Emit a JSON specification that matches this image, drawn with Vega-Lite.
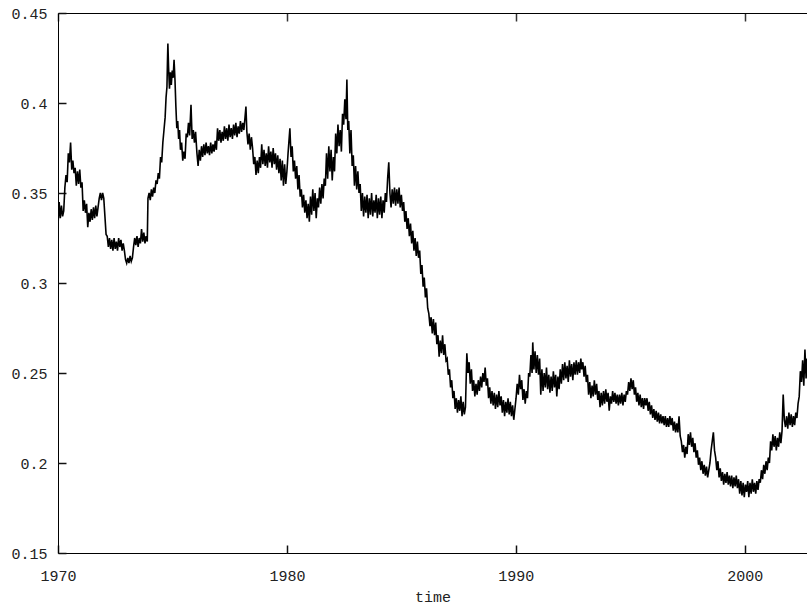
{
"$schema":"https://vega.github.io/schema/vega-lite/v6.json",
"width":749,"height":540,
"autosize":{"type":"none"},
"padding":{"left":58,"top":13,"right":0,"bottom":53},
"background":"white",
"config":{"view":{"stroke":null},"axis":{"labelFont":"Liberation Mono","titleFont":"Liberation Mono","labelColor":"#222","titleColor":"#222","domainColor":"#000","tickColor":"#000","grid":false,"labelFontSize":15,"titleFontSize":15,"titleFontWeight":"normal","zindex":1}},
"datasets":{"d":[
{"t":1970.00,"v":0.332},{"t":1970.05,"v":0.345},{"t":1970.10,"v":0.336},{"t":1970.15,"v":0.343},{"t":1970.20,"v":0.337},{"t":1970.25,"v":0.340},{"t":1970.30,"v":0.353},{"t":1970.35,"v":0.360},{"t":1970.40,"v":0.356},{"t":1970.45,"v":0.372},{"t":1970.50,"v":0.367},{"t":1970.55,"v":0.378},{"t":1970.60,"v":0.363},{"t":1970.65,"v":0.368},{"t":1970.70,"v":0.361},{"t":1970.75,"v":0.364},{"t":1970.80,"v":0.354},{"t":1970.85,"v":0.362},{"t":1970.90,"v":0.355},{"t":1970.95,"v":0.363},
{"t":1971.00,"v":0.353},{"t":1971.05,"v":0.356},{"t":1971.10,"v":0.340},{"t":1971.15,"v":0.346},{"t":1971.20,"v":0.339},{"t":1971.25,"v":0.344},{"t":1971.30,"v":0.331},{"t":1971.35,"v":0.339},{"t":1971.40,"v":0.334},{"t":1971.45,"v":0.341},{"t":1971.50,"v":0.335},{"t":1971.55,"v":0.342},{"t":1971.60,"v":0.336},{"t":1971.65,"v":0.343},{"t":1971.70,"v":0.337},{"t":1971.75,"v":0.342},{"t":1971.80,"v":0.347},{"t":1971.85,"v":0.350},{"t":1971.90,"v":0.346},{"t":1971.95,"v":0.350},
{"t":1972.00,"v":0.347},{"t":1972.05,"v":0.337},{"t":1972.10,"v":0.327},{"t":1972.15,"v":0.326},{"t":1972.20,"v":0.320},{"t":1972.25,"v":0.325},{"t":1972.30,"v":0.319},{"t":1972.35,"v":0.324},{"t":1972.40,"v":0.318},{"t":1972.45,"v":0.325},{"t":1972.50,"v":0.319},{"t":1972.55,"v":0.323},{"t":1972.60,"v":0.318},{"t":1972.65,"v":0.325},{"t":1972.70,"v":0.320},{"t":1972.75,"v":0.324},{"t":1972.80,"v":0.318},{"t":1972.85,"v":0.322},{"t":1972.90,"v":0.318},{"t":1972.95,"v":0.313},
{"t":1973.00,"v":0.311},{"t":1973.05,"v":0.314},{"t":1973.10,"v":0.311},{"t":1973.15,"v":0.315},{"t":1973.20,"v":0.312},{"t":1973.25,"v":0.314},{"t":1973.30,"v":0.320},{"t":1973.35,"v":0.325},{"t":1973.40,"v":0.321},{"t":1973.45,"v":0.326},{"t":1973.50,"v":0.320},{"t":1973.55,"v":0.325},{"t":1973.60,"v":0.322},{"t":1973.65,"v":0.330},{"t":1973.70,"v":0.323},{"t":1973.75,"v":0.328},{"t":1973.80,"v":0.322},{"t":1973.85,"v":0.326},{"t":1973.90,"v":0.323},{"t":1973.93,"v":0.347},{"t":1973.98,"v":0.350},
{"t":1974.03,"v":0.346},{"t":1974.08,"v":0.352},{"t":1974.13,"v":0.348},{"t":1974.18,"v":0.353},{"t":1974.23,"v":0.350},{"t":1974.28,"v":0.357},{"t":1974.33,"v":0.355},{"t":1974.38,"v":0.361},{"t":1974.43,"v":0.358},{"t":1974.48,"v":0.370},{"t":1974.53,"v":0.367},{"t":1974.58,"v":0.378},{"t":1974.63,"v":0.385},{"t":1974.68,"v":0.392},{"t":1974.72,"v":0.403},{"t":1974.76,"v":0.409},{"t":1974.78,"v":0.422},{"t":1974.80,"v":0.433},{"t":1974.83,"v":0.420},{"t":1974.87,"v":0.408},{"t":1974.91,"v":0.417},{"t":1974.95,"v":0.410},{"t":1974.99,"v":0.418},
{"t":1975.03,"v":0.414},{"t":1975.07,"v":0.424},{"t":1975.11,"v":0.413},{"t":1975.15,"v":0.398},{"t":1975.19,"v":0.386},{"t":1975.23,"v":0.390},{"t":1975.27,"v":0.380},{"t":1975.31,"v":0.385},{"t":1975.35,"v":0.374},{"t":1975.40,"v":0.378},{"t":1975.45,"v":0.368},{"t":1975.50,"v":0.373},{"t":1975.55,"v":0.369},{"t":1975.60,"v":0.383},{"t":1975.65,"v":0.381},{"t":1975.70,"v":0.389},{"t":1975.75,"v":0.382},{"t":1975.81,"v":0.399},{"t":1975.86,"v":0.380},{"t":1975.91,"v":0.385},{"t":1975.96,"v":0.378},
{"t":1976.01,"v":0.384},{"t":1976.07,"v":0.372},{"t":1976.12,"v":0.365},{"t":1976.17,"v":0.374},{"t":1976.22,"v":0.368},{"t":1976.27,"v":0.376},{"t":1976.32,"v":0.370},{"t":1976.37,"v":0.377},{"t":1976.42,"v":0.371},{"t":1976.47,"v":0.378},{"t":1976.52,"v":0.372},{"t":1976.57,"v":0.376},{"t":1976.62,"v":0.371},{"t":1976.67,"v":0.378},{"t":1976.72,"v":0.372},{"t":1976.77,"v":0.377},{"t":1976.82,"v":0.373},{"t":1976.87,"v":0.379},{"t":1976.92,"v":0.374},{"t":1976.97,"v":0.386},
{"t":1977.02,"v":0.379},{"t":1977.07,"v":0.385},{"t":1977.12,"v":0.378},{"t":1977.17,"v":0.384},{"t":1977.22,"v":0.379},{"t":1977.27,"v":0.387},{"t":1977.32,"v":0.380},{"t":1977.37,"v":0.386},{"t":1977.42,"v":0.379},{"t":1977.47,"v":0.388},{"t":1977.52,"v":0.381},{"t":1977.57,"v":0.386},{"t":1977.62,"v":0.380},{"t":1977.67,"v":0.388},{"t":1977.72,"v":0.382},{"t":1977.77,"v":0.389},{"t":1977.82,"v":0.381},{"t":1977.87,"v":0.387},{"t":1977.92,"v":0.383},{"t":1977.97,"v":0.390},
{"t":1978.02,"v":0.384},{"t":1978.07,"v":0.389},{"t":1978.12,"v":0.385},{"t":1978.17,"v":0.392},{"t":1978.21,"v":0.398},{"t":1978.25,"v":0.384},{"t":1978.30,"v":0.377},{"t":1978.35,"v":0.383},{"t":1978.40,"v":0.374},{"t":1978.45,"v":0.381},{"t":1978.50,"v":0.375},{"t":1978.55,"v":0.366},{"t":1978.60,"v":0.370},{"t":1978.65,"v":0.360},{"t":1978.70,"v":0.368},{"t":1978.75,"v":0.361},{"t":1978.80,"v":0.370},{"t":1978.85,"v":0.364},{"t":1978.90,"v":0.377},{"t":1978.95,"v":0.366},
{"t":1979.00,"v":0.374},{"t":1979.05,"v":0.365},{"t":1979.10,"v":0.372},{"t":1979.15,"v":0.364},{"t":1979.20,"v":0.376},{"t":1979.25,"v":0.367},{"t":1979.30,"v":0.373},{"t":1979.35,"v":0.364},{"t":1979.40,"v":0.375},{"t":1979.45,"v":0.366},{"t":1979.50,"v":0.372},{"t":1979.55,"v":0.363},{"t":1979.60,"v":0.371},{"t":1979.65,"v":0.361},{"t":1979.70,"v":0.369},{"t":1979.75,"v":0.357},{"t":1979.80,"v":0.368},{"t":1979.85,"v":0.354},{"t":1979.90,"v":0.366},{"t":1979.95,"v":0.355},
{"t":1980.00,"v":0.362},{"t":1980.05,"v":0.372},{"t":1980.13,"v":0.386},{"t":1980.18,"v":0.370},{"t":1980.23,"v":0.376},{"t":1980.28,"v":0.362},{"t":1980.33,"v":0.368},{"t":1980.38,"v":0.358},{"t":1980.43,"v":0.365},{"t":1980.48,"v":0.352},{"t":1980.53,"v":0.360},{"t":1980.58,"v":0.348},{"t":1980.63,"v":0.352},{"t":1980.68,"v":0.342},{"t":1980.73,"v":0.349},{"t":1980.78,"v":0.339},{"t":1980.83,"v":0.346},{"t":1980.88,"v":0.336},{"t":1980.93,"v":0.344},{"t":1980.98,"v":0.334},
{"t":1981.03,"v":0.348},{"t":1981.08,"v":0.338},{"t":1981.13,"v":0.352},{"t":1981.18,"v":0.340},{"t":1981.23,"v":0.350},{"t":1981.28,"v":0.336},{"t":1981.33,"v":0.347},{"t":1981.38,"v":0.342},{"t":1981.43,"v":0.353},{"t":1981.48,"v":0.344},{"t":1981.53,"v":0.355},{"t":1981.58,"v":0.347},{"t":1981.63,"v":0.358},{"t":1981.68,"v":0.354},{"t":1981.73,"v":0.372},{"t":1981.78,"v":0.358},{"t":1981.83,"v":0.376},{"t":1981.88,"v":0.362},{"t":1981.93,"v":0.374},{"t":1981.98,"v":0.357},
{"t":1982.03,"v":0.370},{"t":1982.08,"v":0.362},{"t":1982.13,"v":0.383},{"t":1982.18,"v":0.372},{"t":1982.23,"v":0.388},{"t":1982.28,"v":0.376},{"t":1982.33,"v":0.385},{"t":1982.38,"v":0.373},{"t":1982.43,"v":0.394},{"t":1982.48,"v":0.388},{"t":1982.53,"v":0.402},{"t":1982.58,"v":0.391},{"t":1982.62,"v":0.413},{"t":1982.66,"v":0.385},{"t":1982.70,"v":0.390},{"t":1982.75,"v":0.372},{"t":1982.80,"v":0.385},{"t":1982.85,"v":0.365},{"t":1982.90,"v":0.371},{"t":1982.95,"v":0.354},
{"t":1983.00,"v":0.365},{"t":1983.05,"v":0.352},{"t":1983.10,"v":0.362},{"t":1983.15,"v":0.350},{"t":1983.20,"v":0.355},{"t":1983.25,"v":0.340},{"t":1983.30,"v":0.350},{"t":1983.35,"v":0.337},{"t":1983.40,"v":0.348},{"t":1983.45,"v":0.339},{"t":1983.50,"v":0.349},{"t":1983.55,"v":0.336},{"t":1983.60,"v":0.347},{"t":1983.65,"v":0.338},{"t":1983.70,"v":0.350},{"t":1983.75,"v":0.337},{"t":1983.80,"v":0.346},{"t":1983.85,"v":0.339},{"t":1983.90,"v":0.349},{"t":1983.95,"v":0.336},
{"t":1984.00,"v":0.347},{"t":1984.05,"v":0.338},{"t":1984.10,"v":0.348},{"t":1984.15,"v":0.336},{"t":1984.20,"v":0.346},{"t":1984.25,"v":0.339},{"t":1984.30,"v":0.350},{"t":1984.35,"v":0.345},{"t":1984.40,"v":0.358},{"t":1984.45,"v":0.367},{"t":1984.50,"v":0.350},{"t":1984.55,"v":0.342},{"t":1984.60,"v":0.352},{"t":1984.65,"v":0.344},{"t":1984.70,"v":0.353},{"t":1984.75,"v":0.343},{"t":1984.80,"v":0.352},{"t":1984.85,"v":0.344},{"t":1984.90,"v":0.353},{"t":1984.95,"v":0.342},
{"t":1985.00,"v":0.349},{"t":1985.05,"v":0.340},{"t":1985.10,"v":0.345},{"t":1985.15,"v":0.334},{"t":1985.20,"v":0.340},{"t":1985.25,"v":0.330},{"t":1985.30,"v":0.336},{"t":1985.35,"v":0.326},{"t":1985.40,"v":0.333},{"t":1985.45,"v":0.322},{"t":1985.50,"v":0.329},{"t":1985.55,"v":0.318},{"t":1985.60,"v":0.325},{"t":1985.65,"v":0.315},{"t":1985.70,"v":0.323},{"t":1985.75,"v":0.314},{"t":1985.80,"v":0.318},{"t":1985.85,"v":0.305},{"t":1985.90,"v":0.310},{"t":1985.95,"v":0.298},
{"t":1986.00,"v":0.303},{"t":1986.05,"v":0.292},{"t":1986.10,"v":0.297},{"t":1986.15,"v":0.286},{"t":1986.20,"v":0.283},{"t":1986.25,"v":0.276},{"t":1986.30,"v":0.281},{"t":1986.35,"v":0.272},{"t":1986.40,"v":0.280},{"t":1986.45,"v":0.271},{"t":1986.50,"v":0.278},{"t":1986.55,"v":0.266},{"t":1986.60,"v":0.271},{"t":1986.65,"v":0.259},{"t":1986.70,"v":0.268},{"t":1986.75,"v":0.261},{"t":1986.80,"v":0.271},{"t":1986.85,"v":0.260},{"t":1986.90,"v":0.266},{"t":1986.95,"v":0.257},
{"t":1987.00,"v":0.258},{"t":1987.05,"v":0.249},{"t":1987.10,"v":0.252},{"t":1987.15,"v":0.242},{"t":1987.20,"v":0.246},{"t":1987.25,"v":0.236},{"t":1987.30,"v":0.240},{"t":1987.35,"v":0.230},{"t":1987.40,"v":0.236},{"t":1987.45,"v":0.228},{"t":1987.50,"v":0.235},{"t":1987.55,"v":0.229},{"t":1987.60,"v":0.237},{"t":1987.65,"v":0.226},{"t":1987.70,"v":0.234},{"t":1987.75,"v":0.227},{"t":1987.80,"v":0.231},{"t":1987.86,"v":0.261},{"t":1987.91,"v":0.250},{"t":1987.96,"v":0.256},
{"t":1988.01,"v":0.244},{"t":1988.06,"v":0.252},{"t":1988.11,"v":0.240},{"t":1988.16,"v":0.246},{"t":1988.21,"v":0.237},{"t":1988.26,"v":0.244},{"t":1988.31,"v":0.238},{"t":1988.36,"v":0.246},{"t":1988.41,"v":0.240},{"t":1988.46,"v":0.248},{"t":1988.51,"v":0.242},{"t":1988.56,"v":0.250},{"t":1988.61,"v":0.245},{"t":1988.66,"v":0.253},{"t":1988.71,"v":0.243},{"t":1988.76,"v":0.247},{"t":1988.81,"v":0.236},{"t":1988.86,"v":0.242},{"t":1988.91,"v":0.233},{"t":1988.96,"v":0.240},
{"t":1989.01,"v":0.232},{"t":1989.06,"v":0.239},{"t":1989.11,"v":0.230},{"t":1989.16,"v":0.238},{"t":1989.21,"v":0.231},{"t":1989.26,"v":0.240},{"t":1989.31,"v":0.232},{"t":1989.36,"v":0.237},{"t":1989.41,"v":0.228},{"t":1989.46,"v":0.235},{"t":1989.51,"v":0.226},{"t":1989.56,"v":0.234},{"t":1989.61,"v":0.228},{"t":1989.66,"v":0.236},{"t":1989.71,"v":0.227},{"t":1989.76,"v":0.234},{"t":1989.81,"v":0.226},{"t":1989.86,"v":0.232},{"t":1989.91,"v":0.224},{"t":1989.96,"v":0.230},
{"t":1990.01,"v":0.236},{"t":1990.06,"v":0.244},{"t":1990.11,"v":0.238},{"t":1990.16,"v":0.249},{"t":1990.21,"v":0.241},{"t":1990.26,"v":0.246},{"t":1990.31,"v":0.235},{"t":1990.36,"v":0.241},{"t":1990.41,"v":0.233},{"t":1990.46,"v":0.240},{"t":1990.51,"v":0.236},{"t":1990.56,"v":0.250},{"t":1990.61,"v":0.248},{"t":1990.66,"v":0.260},{"t":1990.71,"v":0.250},{"t":1990.74,"v":0.267},{"t":1990.79,"v":0.252},{"t":1990.84,"v":0.262},{"t":1990.89,"v":0.250},{"t":1990.94,"v":0.260},{"t":1990.99,"v":0.249},
{"t":1991.04,"v":0.258},{"t":1991.09,"v":0.238},{"t":1991.14,"v":0.252},{"t":1991.19,"v":0.240},{"t":1991.24,"v":0.250},{"t":1991.29,"v":0.242},{"t":1991.34,"v":0.253},{"t":1991.39,"v":0.241},{"t":1991.44,"v":0.249},{"t":1991.49,"v":0.239},{"t":1991.54,"v":0.248},{"t":1991.59,"v":0.240},{"t":1991.64,"v":0.251},{"t":1991.69,"v":0.242},{"t":1991.74,"v":0.249},{"t":1991.79,"v":0.237},{"t":1991.84,"v":0.248},{"t":1991.89,"v":0.241},{"t":1991.94,"v":0.252},{"t":1991.99,"v":0.244},
{"t":1992.04,"v":0.255},{"t":1992.09,"v":0.246},{"t":1992.14,"v":0.256},{"t":1992.19,"v":0.247},{"t":1992.24,"v":0.254},{"t":1992.29,"v":0.245},{"t":1992.34,"v":0.257},{"t":1992.39,"v":0.248},{"t":1992.44,"v":0.255},{"t":1992.49,"v":0.246},{"t":1992.54,"v":0.256},{"t":1992.59,"v":0.249},{"t":1992.64,"v":0.257},{"t":1992.69,"v":0.249},{"t":1992.74,"v":0.256},{"t":1992.79,"v":0.250},{"t":1992.84,"v":0.258},{"t":1992.88,"v":0.252},{"t":1992.93,"v":0.256},{"t":1992.98,"v":0.248},
{"t":1993.03,"v":0.254},{"t":1993.08,"v":0.245},{"t":1993.13,"v":0.249},{"t":1993.18,"v":0.238},{"t":1993.23,"v":0.245},{"t":1993.28,"v":0.236},{"t":1993.33,"v":0.243},{"t":1993.38,"v":0.237},{"t":1993.43,"v":0.246},{"t":1993.48,"v":0.238},{"t":1993.53,"v":0.244},{"t":1993.58,"v":0.235},{"t":1993.63,"v":0.240},{"t":1993.68,"v":0.231},{"t":1993.73,"v":0.239},{"t":1993.78,"v":0.232},{"t":1993.83,"v":0.240},{"t":1993.88,"v":0.233},{"t":1993.93,"v":0.241},{"t":1993.98,"v":0.234},
{"t":1994.03,"v":0.239},{"t":1994.08,"v":0.229},{"t":1994.13,"v":0.237},{"t":1994.18,"v":0.233},{"t":1994.23,"v":0.240},{"t":1994.28,"v":0.234},{"t":1994.33,"v":0.239},{"t":1994.38,"v":0.233},{"t":1994.43,"v":0.238},{"t":1994.48,"v":0.232},{"t":1994.53,"v":0.238},{"t":1994.58,"v":0.233},{"t":1994.63,"v":0.239},{"t":1994.68,"v":0.232},{"t":1994.73,"v":0.238},{"t":1994.78,"v":0.234},{"t":1994.83,"v":0.240},{"t":1994.88,"v":0.238},{"t":1994.93,"v":0.245},{"t":1994.98,"v":0.240},
{"t":1995.03,"v":0.247},{"t":1995.08,"v":0.241},{"t":1995.13,"v":0.246},{"t":1995.18,"v":0.238},{"t":1995.23,"v":0.242},{"t":1995.28,"v":0.234},{"t":1995.33,"v":0.239},{"t":1995.38,"v":0.232},{"t":1995.43,"v":0.238},{"t":1995.48,"v":0.231},{"t":1995.53,"v":0.236},{"t":1995.58,"v":0.230},{"t":1995.63,"v":0.236},{"t":1995.68,"v":0.232},{"t":1995.73,"v":0.236},{"t":1995.78,"v":0.229},{"t":1995.83,"v":0.234},{"t":1995.88,"v":0.227},{"t":1995.93,"v":0.232},{"t":1995.98,"v":0.225},
{"t":1996.03,"v":0.230},{"t":1996.08,"v":0.224},{"t":1996.13,"v":0.229},{"t":1996.18,"v":0.223},{"t":1996.23,"v":0.228},{"t":1996.28,"v":0.222},{"t":1996.33,"v":0.227},{"t":1996.38,"v":0.222},{"t":1996.43,"v":0.226},{"t":1996.48,"v":0.221},{"t":1996.53,"v":0.226},{"t":1996.58,"v":0.220},{"t":1996.63,"v":0.225},{"t":1996.68,"v":0.220},{"t":1996.73,"v":0.226},{"t":1996.78,"v":0.221},{"t":1996.83,"v":0.225},{"t":1996.88,"v":0.218},{"t":1996.93,"v":0.223},{"t":1996.98,"v":0.217},
{"t":1997.03,"v":0.222},{"t":1997.08,"v":0.217},{"t":1997.13,"v":0.226},{"t":1997.18,"v":0.215},{"t":1997.23,"v":0.212},{"t":1997.28,"v":0.206},{"t":1997.33,"v":0.210},{"t":1997.38,"v":0.203},{"t":1997.43,"v":0.209},{"t":1997.48,"v":0.205},{"t":1997.53,"v":0.216},{"t":1997.58,"v":0.210},{"t":1997.63,"v":0.217},{"t":1997.68,"v":0.209},{"t":1997.73,"v":0.214},{"t":1997.78,"v":0.206},{"t":1997.83,"v":0.211},{"t":1997.88,"v":0.203},{"t":1997.93,"v":0.207},{"t":1997.98,"v":0.199},
{"t":1998.03,"v":0.203},{"t":1998.08,"v":0.196},{"t":1998.13,"v":0.201},{"t":1998.18,"v":0.194},{"t":1998.23,"v":0.199},{"t":1998.28,"v":0.193},{"t":1998.33,"v":0.198},{"t":1998.38,"v":0.192},{"t":1998.43,"v":0.196},{"t":1998.48,"v":0.200},{"t":1998.53,"v":0.207},{"t":1998.58,"v":0.212},{"t":1998.63,"v":0.217},{"t":1998.68,"v":0.207},{"t":1998.73,"v":0.203},{"t":1998.78,"v":0.196},{"t":1998.83,"v":0.201},{"t":1998.88,"v":0.192},{"t":1998.93,"v":0.197},{"t":1998.98,"v":0.190},
{"t":1999.03,"v":0.195},{"t":1999.08,"v":0.188},{"t":1999.13,"v":0.194},{"t":1999.18,"v":0.189},{"t":1999.23,"v":0.195},{"t":1999.28,"v":0.188},{"t":1999.33,"v":0.193},{"t":1999.38,"v":0.187},{"t":1999.43,"v":0.193},{"t":1999.48,"v":0.186},{"t":1999.53,"v":0.192},{"t":1999.58,"v":0.187},{"t":1999.63,"v":0.193},{"t":1999.68,"v":0.186},{"t":1999.73,"v":0.191},{"t":1999.78,"v":0.183},{"t":1999.83,"v":0.190},{"t":1999.88,"v":0.182},{"t":1999.93,"v":0.189},{"t":1999.98,"v":0.181},
{"t":2000.03,"v":0.188},{"t":2000.08,"v":0.184},{"t":2000.13,"v":0.190},{"t":2000.18,"v":0.181},{"t":2000.23,"v":0.189},{"t":2000.28,"v":0.183},{"t":2000.33,"v":0.191},{"t":2000.38,"v":0.184},{"t":2000.43,"v":0.189},{"t":2000.48,"v":0.183},{"t":2000.53,"v":0.190},{"t":2000.58,"v":0.185},{"t":2000.63,"v":0.191},{"t":2000.68,"v":0.189},{"t":2000.73,"v":0.196},{"t":2000.78,"v":0.191},{"t":2000.83,"v":0.199},{"t":2000.88,"v":0.194},{"t":2000.93,"v":0.201},{"t":2000.98,"v":0.196},
{"t":2001.03,"v":0.203},{"t":2001.08,"v":0.200},{"t":2001.13,"v":0.212},{"t":2001.18,"v":0.207},{"t":2001.23,"v":0.216},{"t":2001.28,"v":0.209},{"t":2001.33,"v":0.215},{"t":2001.38,"v":0.207},{"t":2001.43,"v":0.214},{"t":2001.48,"v":0.209},{"t":2001.53,"v":0.217},{"t":2001.58,"v":0.211},{"t":2001.63,"v":0.218},{"t":2001.68,"v":0.238},{"t":2001.73,"v":0.224},{"t":2001.78,"v":0.220},{"t":2001.83,"v":0.226},{"t":2001.88,"v":0.219},{"t":2001.93,"v":0.228},{"t":2001.98,"v":0.221},
{"t":2002.03,"v":0.227},{"t":2002.08,"v":0.220},{"t":2002.13,"v":0.226},{"t":2002.18,"v":0.221},{"t":2002.23,"v":0.228},{"t":2002.28,"v":0.225},{"t":2002.33,"v":0.233},{"t":2002.38,"v":0.237},{"t":2002.43,"v":0.251},{"t":2002.48,"v":0.245},{"t":2002.53,"v":0.257},{"t":2002.58,"v":0.243},{"t":2002.63,"v":0.263},{"t":2002.68,"v":0.247},{"t":2002.72,"v":0.258}
]},
"data":{"name":"d"},
"encoding":{
 "x":{"field":"t","type":"quantitative","scale":{"domain":[1970,2002.72],"nice":false,"zero":false}},
 "y":{"field":"v","type":"quantitative","scale":{"domain":[0.15,0.45],"nice":false,"zero":false}}
},
"layer":[
{"mark":{"type":"line","color":"#000","strokeWidth":1.6,"clip":true},
 "encoding":{
  "x":{"field":"t","type":"quantitative","axis":{"orient":"bottom","title":"time","values":[1970,1980,1990,2000],"format":"d","ticks":false,"labelPadding":15,"labelFlush":false,"titlePadding":6}},
  "y":{"field":"v","type":"quantitative","axis":{"orient":"left","title":null,"values":[0.15,0.2,0.25,0.3,0.35,0.4,0.45],"format":".2~f","ticks":false,"labelPadding":11,"labelFlush":false}}
 }},
{"mark":{"type":"line","opacity":0,"clip":true},
 "encoding":{
  "x":{"field":"t","type":"quantitative","axis":{"orient":"top","offset":-540,"title":null,"labels":false,"domain":false,"ticks":true,"values":[1970,1980,1990,2000],"tickSize":8,"tickColor":"#111","tickWidth":1.5}},
  "y":{"field":"v","type":"quantitative","axis":{"orient":"right","offset":-749,"title":null,"labels":false,"domain":false,"ticks":true,"values":[0.15,0.2,0.25,0.3,0.35,0.4,0.45],"tickSize":8,"tickColor":"#111","tickWidth":1.5}}
 }},
{"mark":{"type":"line","opacity":0,"clip":true},
 "encoding":{
  "x":{"field":"t","type":"quantitative","axis":{"orient":"bottom","offset":-540,"title":null,"labels":false,"domain":true,"ticks":true,"values":[1970,1980,1990,2000],"tickSize":8,"tickColor":"#333","tickWidth":1.5}},
  "y":{"field":"v","type":"quantitative","axis":null}
 }}
],
"resolve":{"axis":{"x":"independent","y":"independent"}}
}
